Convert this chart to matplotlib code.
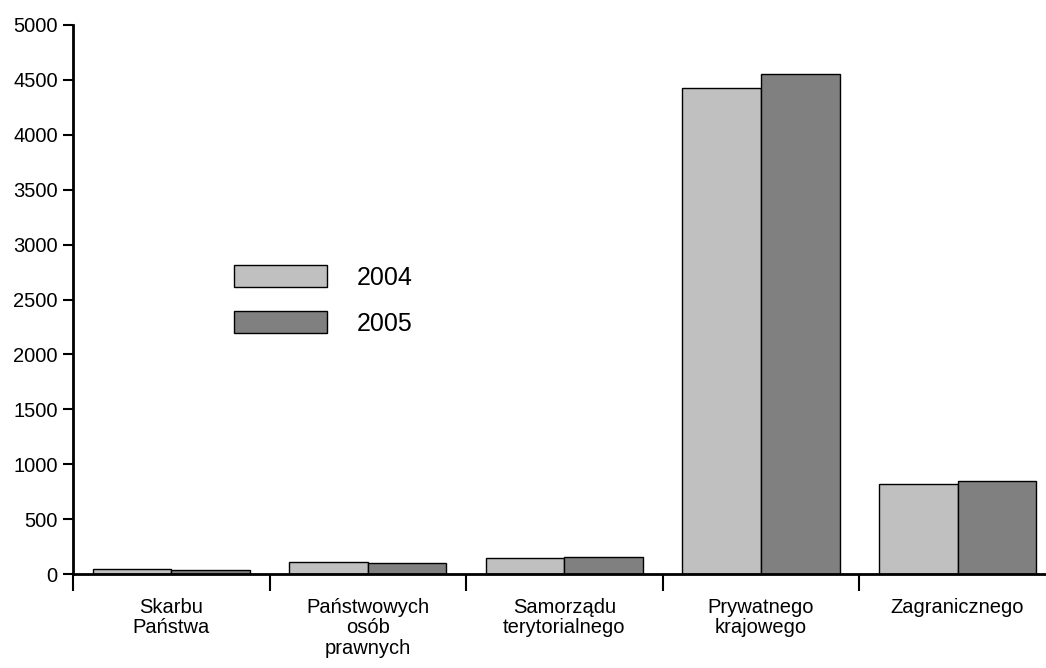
import numpy as np
import matplotlib
matplotlib.use('Agg')
import matplotlib.pyplot as plt

# ///////////////////////////////////////////////////////////////// data

CATEGORIES = ['Skarbu\nPaństwa', 'Państwowych\nosób\nprawnych', 'Samorządu\nterytorialnego',
              'Prywatnego\nkrajowego', 'Zagranicznego']
VALUES_2004 = [43, 107, 149, 4430, 820]
VALUES_2005 = [34, 97, 152, 4555, 843]
YEARS = ['2004', '2005']
COLORS = ['#c0c0c0', '#808080']

# ///////////////////////////////////////////////////////////////// figure

plt.rcParams['font.family'] = ['Liberation Sans', 'DejaVu Sans']

W, H = 1046, 668
fig = plt.figure(figsize=(W / 100, H / 100), dpi=100)
ax = fig.add_axes([73 / W, (H - 574) / H, (W - 73) / W, (574 - 25) / H])

x = np.arange(len(CATEGORIES))
bar_w = 0.4
for offset, vals, col, year in zip([-bar_w / 2, bar_w / 2], [VALUES_2004, VALUES_2005], COLORS, YEARS):
    ax.bar(x + offset, vals, width=bar_w, color=col, edgecolor='black', linewidth=1.0, label=year)

ax.set_yticks(np.arange(0, 5001, 500))
ax.tick_params(axis='y', labelsize=14.5, length=7, width=1.5, pad=4)

# category labels at centres, tick marks at boundaries
ax.set_xticks(x)
ax.set_xticklabels(CATEGORIES, fontsize=14.5, va='top', linespacing=1.1)
ax.tick_params(axis='x', which='major', length=0, pad=17)
ax.set_xticks(np.arange(-0.5, 4.6, 1.0), minor=True)
ax.tick_params(axis='x', which='minor', length=12, width=1.5)

ax.set_xlim(-0.5, 4.45)
ax.set_ylim(0, 5000)

ax.spines['right'].set_visible(False)
ax.spines['top'].set_visible(False)
ax.spines['left'].set_linewidth(2)
ax.spines['bottom'].set_linewidth(2)

ax.legend(loc='upper left', bbox_to_anchor=(234 / W, 1 - 265 / H), bbox_transform=fig.transFigure,
          frameon=False, fontsize=18, handlelength=3.7, handleheight=1.0, labelspacing=0.85,
          handletextpad=1.2, borderpad=0, borderaxespad=0)

fig.savefig('out.png', dpi=100)
